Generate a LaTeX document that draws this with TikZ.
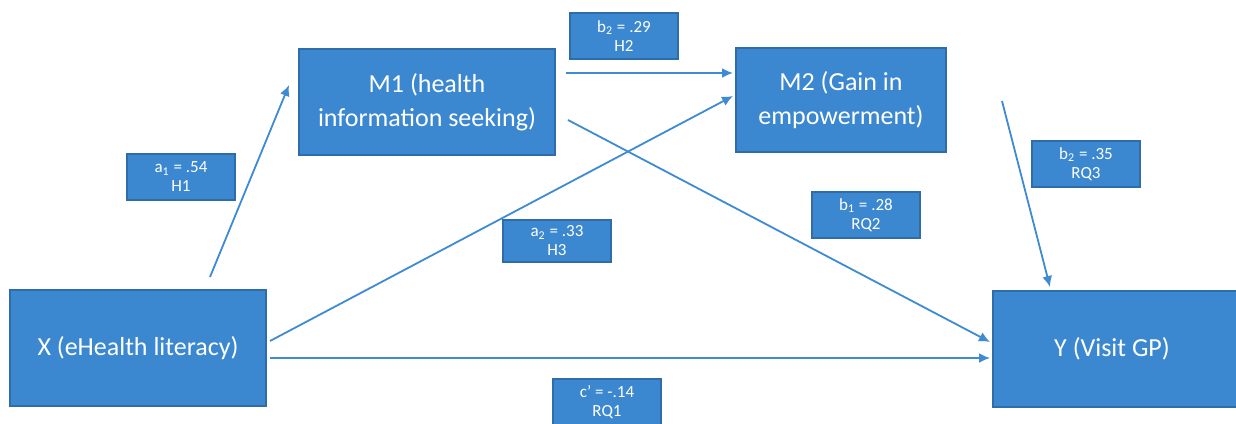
\documentclass[tikz,border=0pt]{standalone}
\usepackage{fontspec}
\setmainfont{Carlito}
\usetikzlibrary{arrows.meta}
\definecolor{boxblue}{HTML}{3C88D0}
\definecolor{boxedge}{HTML}{2E6DAA}
\definecolor{arrowblue}{HTML}{3F8BD3}
\begin{document}
\begin{tikzpicture}
                [%%%%%%%%%%%%%%%%%%%%%%%%%%%%%%%%%%%%%%%%%%%%%%%%%%%%%%%%%%
                    x=0.5pt,y=-0.5pt,>={Latex[length=5.5pt,width=5pt]},
                    box/.style={rectangle,draw=boxedge,fill=boxblue,line width=0.8pt,
                                text=white,font=\fontsize{13}{17}\selectfont,
                                align=center,inner sep=0pt},
                    lbl/.style={rectangle,draw=boxedge,fill=boxblue,line width=0.8pt,
                                text=white,font=\fontsize{8.5}{9.5}\selectfont,
                                align=center,inner sep=0pt,
                                minimum width=54pt,minimum height=23pt},
                    path/.style={->,draw=arrowblue,line width=0.9pt}
                ]%%%%%%%%%%%%%%%%%%%%%%%%%%%%%%%%%%%%%%%%%%%%%%%%%%%%%%%%%%
                \fill[white] (0,0) rectangle (1236,423);
                \clip (0,0) rectangle (1236,423);

                \node[box,minimum width=128pt,minimum height=58pt] (X) at (138,348) {X (eHealth literacy)};
                \node[box,minimum width=128pt,minimum height=53pt] (M1) at (427,102) {M1 (health\\information seeking)};
                \node[box,minimum width=105pt,minimum height=52pt] (M2) at (841,100) {M2 (Gain in\\empowerment)};
                \node[box,minimum width=128pt,minimum height=58pt] (Y) at (1121,349) {};
                \node[text=white,font=\fontsize{13}{17}\selectfont] (Ytext) at (1112,349) {Y (Visit GP)};

                \node[lbl] (a1) at (181,177) {a\textsubscript{1} = .54\\H1};
                \node[lbl] (b2a) at (624,36) {b\textsubscript{2} = .29\\H2};
                \node[lbl,minimum height=21pt] (a2) at (557,241) {a\textsubscript{2} = .33\\H3};
                \node[lbl] (b1) at (866,215) {b\textsubscript{1} = .28\\RQ2};
                \node[lbl] (b2b) at (1086,164) {b\textsubscript{2} = .35\\RQ3};
                \node[lbl] (c) at (607,402) {c’ = -.14\\RQ1};

                % connector ends
                \coordinate (xm1s) at (210,277);
                \coordinate (xm1e) at (289,85);
                \coordinate (m1m2s) at (566,73);
                \coordinate (m1m2e) at (733,73);
                \coordinate (m1ys) at (568,120);
                \coordinate (m1ye) at (990,342);
                \coordinate (xm2s) at (270,341);
                \coordinate (xm2e) at (733,96);
                \coordinate (xys) at (270,358);
                \coordinate (xye) at (990,358);
                \coordinate (m2ys) at (1002,101);
                \coordinate (m2ye) at (1050,287);

                \draw[path] (xm1s) -- (xm1e);
                \draw[path] (m1m2s) -- (m1m2e);
                \draw[path] (m1ys) -- (m1ye);
                \draw[path] (xm2s) -- (xm2e);
                \draw[path] (xys) -- (xye);
                \draw[path] (m2ys) -- (m2ye);
            \end{tikzpicture}
\end{document}
